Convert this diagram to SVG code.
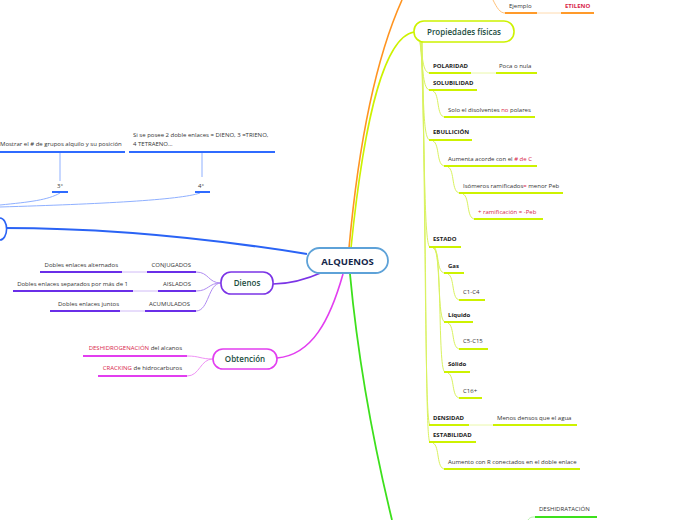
<svg xmlns="http://www.w3.org/2000/svg" width="696" height="520" viewBox="0 0 696 520">
<style>
text{font-family:"Open Sans","DejaVu Sans",sans-serif;font-size:6px;fill:#333}
.b{font-weight:bold;fill:#222}
.r{fill:#d81e4a}
.rb{fill:#d81e4a;font-weight:bold}
.n{font-size:8px;font-weight:600;fill:#1b4d3e;text-anchor:middle}
.c{font-weight:bold;font-size:9.5px;fill:#15264a;text-anchor:middle}
.e{text-anchor:end}
.ub{stroke:#2f6bff;stroke-width:2;fill:none}
.up{stroke:#6a2ee8;stroke-width:2;fill:none}
.um{stroke:#e23ef0;stroke-width:2;fill:none}
.uy{stroke:#cdf200;stroke-width:2;fill:none}
.uo{stroke:#ff9a2a;stroke-width:2;fill:none}
.ug{stroke:#3de01c;stroke-width:2;fill:none}
.cy{stroke:#d9f25e;stroke-width:1;fill:none}
.cyf{stroke:#eaf8a8;stroke-width:1;fill:none}
.cp{stroke:#b08cf2;stroke-width:1;fill:none}
.cm{stroke:#ef92f5;stroke-width:1;fill:none}
.cb{stroke:#8fb0ff;stroke-width:1;fill:none}
.co{stroke:#ffc27a;stroke-width:1;fill:none}
</style>
<g id="connectors">
<path d="M307,254 C220,240 120,228 4,228" stroke="#2a63f5" stroke-width="2" fill="none"/>
<path d="M323,272 C305,280 290,284 273,284" stroke="#7b34e6" stroke-width="1.6" fill="none"/>
<path d="M343,274 C330,320 312,355 277,358" stroke="#e23ef0" stroke-width="1.6" fill="none"/>
<path d="M349,248 C358,150 375,60 402,0" stroke="#ff9420" stroke-width="1.6" fill="none"/>
<path d="M351,248 C362,140 380,38 414,32" stroke="#cdf200" stroke-width="1.6" fill="none"/>
<path d="M350,274 C358,360 375,450 392,520" stroke="#3de01c" stroke-width="1.8" fill="none"/>
<path d="M0,205 C30,202 48,200 60,193" class="cb"/>
<path d="M0,207 C100,204 180,200 200,193" class="cb"/>
<path d="M60,153 V181" class="cb"/>
<path d="M202,153 V177" class="cb"/>
<path d="M221,283 C208,283 209,272 196,272" class="cp"/>
<path d="M221,283 C208,283 209,291 196,291" class="cp"/>
<path d="M221,283 C208,283 209,311 196,311" class="cp"/>
<path d="M147,272 H122 M158,291 H133 M145,311 H120" class="cp" opacity="0.6"/>
<path d="M213,359 C200,359 200,356 187,356" class="cm"/>
<path d="M213,359 C200,359 200,376 187,376" class="cm"/>
<path d="M493,0 C497,8 500,13 505,13" class="co"/>
<path d="M537,13 H561" class="co" opacity="0.6"/>
<path d="M528,520 C530,517 532,517 535,517" stroke="#b5f0a8" stroke-width="1" fill="none"/>
<path d="M420,42 C423,60 423,73 430,73" class="cy"/>
<path d="M420,42 C423,70 423,90 430,90" class="cy"/>
<path d="M421,42 C424,100 423,140 430,140" class="cy"/>
<path d="M421,42 C425,150 424,247 430,247" class="cy"/>
<path d="M422,42 C426,250 425,425 430,425" class="cy"/>
<path d="M422,42 C427,260 425,442 430,442" class="cy"/>
<path d="M471,73 H496" class="cyf"/>
<path d="M469,425 H493" class="cyf"/>
<path d="M433,91 C440,94 436,117 445,117" class="cy"/>
<path d="M433,141 C440,144 436,166 445,166" class="cy"/>
<path d="M448,167 C455,170 451,193 460,193" class="cy"/>
<path d="M463,194 C470,197 466,219 475,219" class="cy"/>
<path d="M433,248 C440,251 436,273 445,273" class="cy"/>
<path d="M434,248 C441,255 437,322 445,322" class="cy"/>
<path d="M435,248 C442,260 438,372 445,372" class="cy"/>
<path d="M448,274 C455,277 451,300 460,300" class="cy"/>
<path d="M448,323 C455,326 451,349 460,349" class="cy"/>
<path d="M448,373 C455,376 451,398 460,398" class="cy"/>
<path d="M433,443 C440,446 436,469 445,469" class="cy"/>
</g>
<g id="central">
<rect x="307" y="248" width="81" height="25" rx="12.5" fill="#fff" stroke="#5ea2d8" stroke-width="1.8"/>
<text x="347.5" y="264.5" class="c">ALQUENOS</text>
</g>
<g id="left-node">
<path d="M0,218 A6,10 0 0 1 0,240" fill="#fff" stroke="#2a63f5" stroke-width="1.6"/>
</g>
<g id="mostrar">
<text x="0" y="146">Mostrar el # de grupos alquilo y su posición</text>
<path d="M0,152 H125" class="ub"/>
</g>
<g id="si-se-posee">
<text x="133" y="137">Si se posee 2 doble enlaces = DIENO, 3 =TRIENO,</text>
<text x="133" y="146">4 TETRAENO...</text>
<path d="M129,152 H275" class="ub"/>
</g>
<g id="tercero"><text x="57" y="188">3°</text><path d="M52,192 H68" class="ub"/></g>
<g id="cuarto"><text x="198" y="188">4°</text><path d="M195,192 H210" class="ub"/></g>
<g id="dienos">
<rect x="221" y="272" width="52" height="22" rx="10" fill="#fff" stroke="#7b34e6" stroke-width="1.6"/>
<text x="247" y="286" class="n">Dienos</text>
</g>
<g id="conjugados"><text x="191" y="266.5" class="e">CONJUGADOS</text><path d="M147,272 H196" class="up"/></g>
<g id="aislados"><text x="191" y="286" class="e">AISLADOS</text><path d="M158,291 H196" class="up"/></g>
<g id="acumulados"><text x="190" y="306" class="e">ACUMULADOS</text><path d="M145,311 H196" class="up"/></g>
<g id="alternados"><text x="118" y="266.5" class="e">Dobles enlaces alternados</text><path d="M40,272 H122" class="up"/></g>
<g id="separados"><text x="128" y="286" class="e">Dobles enlaces separados por más de 1</text><path d="M13,291 H133" class="up"/></g>
<g id="juntos"><text x="119" y="306" class="e">Dobles enlaces juntos</text><path d="M50,311 H120" class="up"/></g>
<g id="obtencion">
<rect x="213" y="349" width="64" height="20" rx="10" fill="#fff" stroke="#e23ef0" stroke-width="1.6"/>
<text x="245" y="362" class="n">Obtención</text>
</g>
<g id="deshidrogenacion"><text x="182" y="350" class="e"><tspan class="r">DESHIDROGENACIÓN</tspan> del alcanos</text><path d="M83,356 H187" class="um"/></g>
<g id="cracking"><text x="182" y="370" class="e"><tspan class="r">CRACKING</tspan> de hidrocarburos</text><path d="M98,376 H187" class="um"/></g>
<g id="ejemplo"><text x="509" y="8">Ejemplo</text><path d="M505,13 H537" class="uo"/></g>
<g id="etileno"><text x="565" y="8" class="rb">ETILENO</text><path d="M561,13 H594" class="uo"/></g>
<g id="propiedades">
<rect x="414" y="21" width="100" height="21" rx="10" fill="#fff" stroke="#cdf200" stroke-width="1.6"/>
<text x="464" y="34.5" class="n">Propiedades físicas</text>
</g>
<g id="polaridad"><text x="433" y="68" class="b">POLARIDAD</text><path d="M429,73 H471" class="uy"/></g>
<g id="poca"><text x="499" y="68">Poca o nula</text><path d="M496,73 H537" class="uy"/></g>
<g id="solubilidad"><text x="433" y="85" class="b">SOLUBILIDAD</text><path d="M429,90 H477" class="uy"/></g>
<g id="solo"><text x="448" y="112">Solo el disolventes <tspan class="r">no</tspan> polares</text><path d="M444,117 H535" class="uy"/></g>
<g id="ebullicion"><text x="433" y="134" class="b">EBULLICIÓN</text><path d="M429,140 H472" class="uy"/></g>
<g id="aumenta"><text x="448" y="161">Aumenta acorde con el <tspan class="r"># de C</tspan></text><path d="M444,166 H537" class="uy"/></g>
<g id="isomeros"><text x="463" y="188">Isómeros ramificados<tspan class="r">=</tspan> menor Peb</text><path d="M459,193 H563" class="uy"/></g>
<g id="ramificacion"><text x="478" y="214" class="r">+ ramificación =  -Peb</text><path d="M474,219 H543" class="uy"/></g>
<g id="estado"><text x="433" y="241" class="b">ESTADO</text><path d="M429,247 H461" class="uy"/></g>
<g id="gas"><text x="448" y="268" class="b">Gas</text><path d="M444,273 H464" class="uy"/></g>
<g id="c1c4"><text x="463" y="294">C1-C4</text><path d="M459,300 H485" class="uy"/></g>
<g id="liquido"><text x="448" y="316.5" class="b">Líquido</text><path d="M444,322 H473" class="uy"/></g>
<g id="c5c15"><text x="463" y="343">C5-C15</text><path d="M459,349 H488" class="uy"/></g>
<g id="solido"><text x="448" y="365.5" class="b">Sólido</text><path d="M444,372 H470" class="uy"/></g>
<g id="c16"><text x="463" y="392.5">C16+</text><path d="M459,398 H482" class="uy"/></g>
<g id="densidad"><text x="433" y="420" class="b">DENSIDAD</text><path d="M429,425 H469" class="uy"/></g>
<g id="menos"><text x="497" y="420">Menos densos que el agua</text><path d="M493,425 H577" class="uy"/></g>
<g id="estabilidad"><text x="433" y="437" class="b">ESTABILIDAD</text><path d="M429,442 H476" class="uy"/></g>
<g id="aumento"><text x="448" y="464">Aumento con R conectados en el doble enlace</text><path d="M444,469 H580" class="uy"/></g>
<g id="deshidratacion"><text x="539" y="511">DESHIDRATACIÓN</text><path d="M535,517 H597" class="ug"/></g>
</svg>
